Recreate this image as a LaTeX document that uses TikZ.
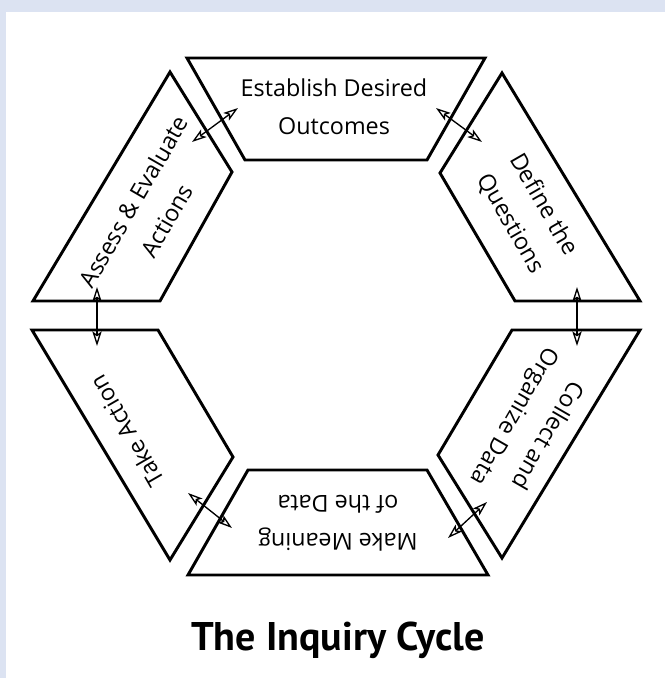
\documentclass[tikz,border=0pt]{standalone}
\usepackage{fontspec}
\setmainfont{Open Sans}
\newfontfamily\titlefont{PT Sans}
\usepackage{tikz}
\usetikzlibrary{arrows.meta}
\definecolor{framebg}{RGB}{220,227,242}
\newcommand{\cyclestage}[5]{%
    \draw[stageline] #2 -- cycle;
    \node[stagetext, rotate=#3] (#1) at (#4) {#5};
}
\newcommand{\cyclelink}[3]{%
    \coordinate (#1a) at (#2);
    \coordinate (#1b) at (#3);
    \draw[linkarrow] (#1a) -- (#1b);
}

\begin{document}
\begin{tikzpicture}[
            x=0.75pt, y=-0.75pt,
            stageline/.style = {line width=2.2pt, line join=miter},
            stagetext/.style = {align=center,
                inner sep=0pt,
                font=\fontsize{17.5}{28.5}\selectfont,
            },
            linkarrow/.style = {line width=1pt,
                arrows={Stealth[open, length=11pt, width=7pt, inset=2.5pt]-Stealth[open, length=11pt, width=7pt, inset=2.5pt]},
            },
            titletext/.style = {font=\titlefont\bfseries\fontsize{30}{34}\selectfont},
        ]
            \fill[framebg] (0,0) rectangle (665,678);
            \fill[white] (6,12) rectangle (665,678);
            \useasboundingbox (0,0) rectangle (665,678);
            % the six stages, clockwise from the top
            \cyclestage{S1}{(187,58) -- (485,58) -- (427,160) -- (245,160)}{0}{334,107}{Establish Desired\\Outcomes}
            \cyclestage{S2}{(502,73) -- (640,301) -- (515,301) -- (440,173)}{-60}{527,214}{Define the\\Questions}
            \cyclestage{S3}{(512,330) -- (640,330) -- (502,558) -- (438,455)}{-120}{530,425}{Collect and\\Organize Data}
            \cyclestage{S4}{(248,470) -- (427,470) -- (488,575) -- (188,575)}{180}{338,523}{Make Meaning\\of the Data}
            \cyclestage{S5}{(32,330) -- (158,330) -- (233,457) -- (170,560)}{120}{127,431}{Take Action}
            \cyclestage{S6}{(170,72) -- (232,172) -- (160,301) -- (33,301)}{60}{150,211}{Assess \& Evaluate\\Actions}
            % links between neighbours
            \cyclelink{L1}{436,108}{482,142}
            \cyclelink{L2}{577,287}{577,346}
            \cyclelink{L3}{487,502}{448,538}
            \cyclelink{L4}{232,528}{188,493}
            \cyclelink{L5}{97,346}{97,287}
            \cyclelink{L6}{192,142}{238,108}
            \node[titletext] (T) at (338,640) {The Inquiry Cycle};
        \end{tikzpicture}
\end{document}
